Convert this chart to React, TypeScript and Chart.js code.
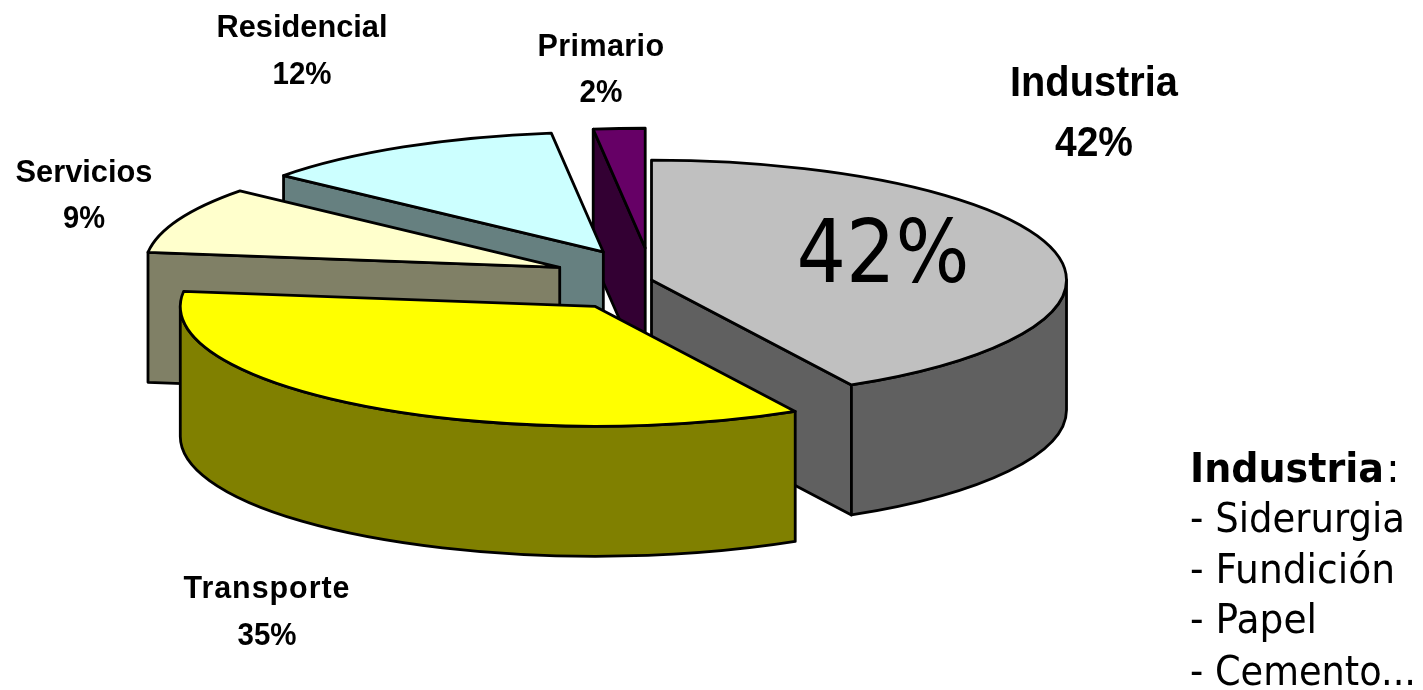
import React, { useEffect, useRef } from "react";
import { Chart, registerables } from "chart.js";

Chart.register(...registerables);

const categories = ["Industria", "Transporte", "Servicios", "Residencial", "Primario"];
const shares = [42, 35, 9, 12, 2];
const topColors = ["#C0C0C0", "#FFFF00", "#FFFFCC", "#CCFFFF", "#660066"];
const sideColors = ["#606060", "#808000", "#808066", "#668080", "#330033"];
const noteTitle = "Industria";
const noteItems = ["- Siderurgia", "- Fundición", "- Papel", "- Cemento..."];

const SANS = '"Liberation Sans", Arial, sans-serif';
const TAHOMA = '"DejaVu Sans", sans-serif';

// label placement per category: centre x, name baseline, value baseline, font px, name width, value width
const labelStyle: Record<string, { x: number; y1: number; y2: number; size: number; w1: number; w2: number; ls: number }> = {
  Industria: { x: 1094, y1: 96, y2: 156, size: 43, w1: 168, w2: 78, ls: 0 },
  Transporte: { x: 267, y1: 598, y2: 645, size: 31, w1: 167, w2: 59, ls: 1 },
  Servicios: { x: 84, y1: 182, y2: 228, size: 31, w1: 137, w2: 42, ls: 0 },
  Residencial: { x: 302, y1: 37, y2: 84, size: 31, w1: 171, w2: 59, ls: 0 },
  Primario: { x: 601, y1: 56, y2: 102, size: 31, w1: 127, w2: 43, ls: 0.4 },
};

const pie3d = {
  id: "pie3d",
  beforeDatasetDraw(chart: any, args: any, opts: any) {
    const { ctx } = chart;
    const { squash, explodeSquash, depth, explode } = opts;
    const arcs: any[] = chart.getDatasetMeta(args.index).data;
    const mid = (a: any) => (a.startAngle + a.endAngle) / 2;
    const order = arcs.map((_, i) => i).sort((p, q) => Math.sin(mid(arcs[p])) - Math.sin(mid(arcs[q])));
    ctx.save();
    ctx.lineJoin = "round";
    ctx.lineWidth = 2.8;
    ctx.strokeStyle = "#000";
    for (const i of order) {
      const arc = arcs[i];
      const r = arc.outerRadius;
      const ry = r * squash;
      const s = arc.startAngle;
      const e = arc.endAngle;
      const d = explode[i];
      const cx = arc.x + Math.cos(mid(arc)) * d;
      const cy = arc.y + Math.sin(mid(arc)) * d * explodeSquash;
      const wall = (t: number) => {
        const px = cx + Math.cos(t) * r;
        const py = cy + Math.sin(t) * ry;
        ctx.beginPath();
        ctx.moveTo(cx, cy);
        ctx.lineTo(px, py);
        ctx.lineTo(px, py + depth);
        ctx.lineTo(cx, cy + depth);
        ctx.closePath();
        ctx.fillStyle = sideColors[i];
        ctx.fill();
        ctx.stroke();
      };
      if (Math.cos(s) < -1e-6) wall(s);
      if (Math.cos(e) > 1e-6) wall(e);
      const a = Math.max(s, 0);
      const b = Math.min(e, Math.PI);
      if (b > a) {
        ctx.beginPath();
        ctx.ellipse(cx, cy, r, ry, 0, a, b);
        ctx.ellipse(cx, cy + depth, r, ry, 0, b, a, true);
        ctx.closePath();
        ctx.fillStyle = sideColors[i];
        ctx.fill();
        ctx.stroke();
      }
      // top face filled by the library's own arc element, flattened into an ellipse
      ctx.save();
      ctx.translate(cx, cy);
      ctx.scale(1, squash);
      ctx.translate(-arc.x, -arc.y);
      arc.draw(ctx);
      ctx.restore();
      ctx.beginPath();
      ctx.moveTo(cx, cy);
      ctx.ellipse(cx, cy, r, ry, 0, s, e);
      ctx.closePath();
      ctx.stroke();
    }
    ctx.restore();
    return false;
  },
  afterDatasetsDraw(chart: any) {
    const { ctx } = chart;
    ctx.save();
    ctx.fillStyle = "#000";
    ctx.textAlign = "center";
    ctx.textBaseline = "alphabetic";
    categories.forEach((name, i) => {
      const l = labelStyle[name];
      ctx.font = `bold ${l.size}px ${SANS}`;
      (ctx as any).letterSpacing = `${l.ls}px`;
      ctx.fillText(name, l.x, l.y1, l.w1);
      (ctx as any).letterSpacing = "0px";
      ctx.fillText(`${shares[i]}%`, l.x, l.y2, l.w2);
    });
    ctx.font = `88px ${TAHOMA}`;
    ctx.fillText(`${shares[0]}%`, 883, 282, 173);
    ctx.textAlign = "left";
    ctx.font = `bold 41px ${TAHOMA}`;
    ctx.fillText(noteTitle, 1190, 482, 194);
    ctx.font = `41px ${TAHOMA}`;
    ctx.fillText(":", 1386, 482);
    const ys = [532, 583, 633, 685];
    const ws = [215, 205, 127, 226];
    noteItems.forEach((t, i) => ctx.fillText(t, 1190, ys[i], ws[i]));
    ctx.restore();
  },
};

export default function App() {
  const ref = useRef<HTMLCanvasElement>(null);
  useEffect(() => {
    const chart = new Chart(ref.current!, {
      type: "pie",
      data: {
        labels: categories,
        datasets: [{ data: shares, backgroundColor: topColors, borderWidth: 0 }],
      },
      options: {
        animation: false,
        responsive: false,
        radius: 415,
        layout: { padding: { right: 120, bottom: 130 } },
        plugins: {
          legend: { display: false },
          tooltip: { enabled: false },
          pie3d: { squash: 0.2887, explodeSquash: 0.32, depth: 130, explode: [0, 100, 100, 100, 100] },
        },
      } as any,
      plugins: [pie3d as any],
    });
    return () => chart.destroy();
  }, []);
  return (
    <div style={{ position: "fixed", left: 0, top: 0, width: 1423, height: 690, background: "#fff" }}>
      <canvas ref={ref} width={1423} height={690} style={{ display: "block" }} />
    </div>
  );
}
